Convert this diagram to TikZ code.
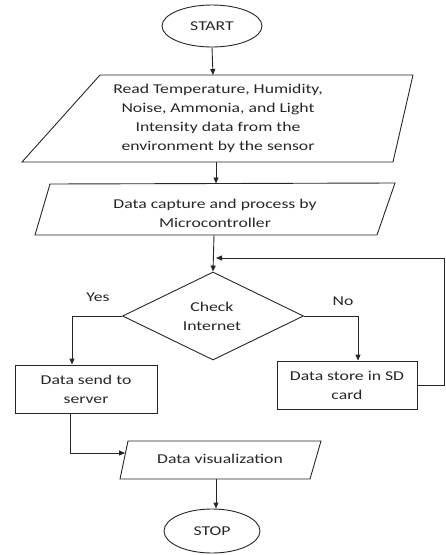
\documentclass[tikz,border=0pt]{standalone}
\usepackage{fontspec}
\setmainfont{Carlito}[FakeStretch=1.31]
\usetikzlibrary{shapes.geometric,arrows.meta}
\begin{document}
\begin{tikzpicture}[x=1pt,y=-1pt,
  font=\fontsize{13.5}{19}\selectfont,
  ln/.style={line width=0.9pt, draw=black!85},
  arr/.style={ln, -{Triangle[length=6pt,width=5pt]}},
  term/.style={ellipse, ln, inner sep=0pt, text=black!85},
  proc/.style={rectangle, ln, align=center, inner sep=0pt, text=black!85},
  txt/.style={align=center, inner sep=0pt, text=black!85},
  dec/.style={diamond, ln, align=center, inner sep=0pt}]
\useasboundingbox (0,0) rectangle (446,555);
% terminals
\node[term, minimum width=100pt, minimum height=42pt] (start) at (212,26) {START};
\node[term, minimum width=96pt, minimum height=44pt] (stop) at (212,531) {STOP};
% input parallelogram
\draw[ln] (100,75) -- (413,75) -- (393,162) -- (22,162) -- cycle;
\node[txt] (read) at (218,118.5) {Read Temperature, Humidity,\\Noise, Ammonia, and Light\\Intensity data from the\\environment by the sensor};
\coordinate (readT) at (213,75);
\coordinate (readB) at (216,162);
% capture parallelogram
\draw[ln] (50,184) -- (395,183) -- (377,235) -- (35,235) -- cycle;
\node[txt] (cap) at (215,213) {Data capture and process by\\Microcontroller};
\coordinate (capT) at (216,183.5);
\coordinate (capB) at (214,235);
% decision
\node[dec, minimum width=181pt, minimum height=88pt] (check) at (213,316) {};
\node[txt] (checkt) at (212,316) {Check\\Internet};
% boxes
\node[proc, minimum width=142pt, minimum height=48pt] (send) at (86,389) {Data send to\\server};
\node[proc, minimum width=140pt, minimum height=48pt] (sd) at (347,385) {Data store in SD\\card};
% visualization parallelogram
\draw[ln] (128,441) -- (321,441) -- (310,479) -- (120,479) -- cycle;
\node[txt] (viz) at (220,459) {Data visualization};
\coordinate (vizL) at (125,453);
\coordinate (vizB) at (216,479);
% labels
\node[txt] (yes) at (98,297) {Yes};
\node[txt] (no) at (343,301) {No};
% connectors
\draw[arr] (start.south) -- (readT);
\draw[arr] (readB) -- (capT);
\draw[arr] (capB) -- (check.north);
\coordinate (fbR) at (444,258);
\coordinate (fbIn) at (214,258);
\draw[arr] (sd.east) -| (fbR) -- ([xshift=2pt]fbIn);
\draw[arr] (check.west) -| ([xshift=-14pt]send.north);
\draw[arr] (check.east) -| ([xshift=11pt]sd.north);
\draw[arr] ([xshift=-16pt]send.south) |- (vizL);
\draw[arr] (vizB) -- (stop.north -| vizB);
\end{tikzpicture}
\end{document}
